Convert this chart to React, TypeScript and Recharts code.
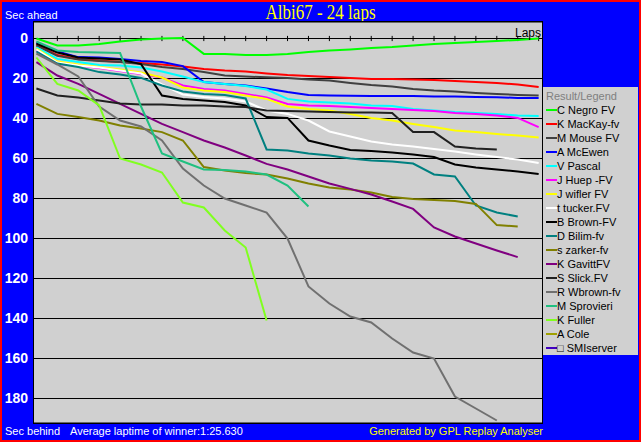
import { LineChart, Line, XAxis, YAxis, CartesianGrid, ReferenceLine } from "recharts";

// lap numbers and y ticks
const laps = [0, 1, 2, 3, 4, 5, 6, 7, 8, 9, 10, 11, 12, 13, 14, 15, 16, 17, 18, 19, 20, 21, 22, 23, 24];
const tickLaps = laps.slice(1);
const secTicks = [0, 20, 40, 60, 80, 100, 120, 140, 160, 180];

const drivers = [
  "C Negro FV",
  "K MacKay-fv",
  "M Mouse FV",
  "A McEwen",
  "V Pascal",
  "J Huep -FV",
  "J wifler FV",
  "t tucker.FV",
  "B Brown-FV",
  "D Bilim-fv",
  "s zarker-fv",
  "K GavittFV",
  "S Slick.FV",
  "R Wbrown-fv",
  "M Sprovieri",
  "K Fuller",
  "A Cole",
  "\u25A1 SMIserver",
];

const colors = [
  "#00FF00", "#FF0000", "#404040", "#0000FF", "#00FFFF", "#FF00FF",
  "#FFFF00", "#FFFFFF", "#000000", "#008080", "#808000", "#800080",
  "#202020", "#707070", "#20C080", "#80FF20", "#A0A000", "#4000C0",
];

// seconds behind, one value per lap (shorter arrays = retired)
const negro = [0, 3.5, 3.5, 2.7, 1.5, 0.5, 0, -0.3, 7.7, 7.7, 8.2, 8.2, 7.7, 6.8, 6, 5.5, 4.8, 4.3, 3.5, 2.8, 2.3, 1.8, 1.3, 0.7, 0];
const mackay = [3, 8.3, 10.2, 11, 11.8, 12.2, 13, 14, 15.2, 16, 16.5, 17.5, 18.3, 18.8, 19.3, 19.8, 20.2, 20.2, 20.5, 20.7, 21.3, 21.8, 22.3, 23, 24.3];
const mouse = [3.5, 8.7, 10.5, 11.2, 11.8, 12.7, 14.3, 15.3, 16.8, 18.5, 19, 19.4, 19.8, 20.5, 21, 22.2, 23.3, 24, 25.2, 26, 26.5, 27.2, 27.7, 28.2, 28.5];
const mcewen = [2, 6.5, 9.3, 9.5, 10.2, 11.3, 11.8, 13.8, 21.8, 22.7, 23.5, 25, 26.8, 28.2, 28.5, 28.6, 28.8, 28.7, 28.8, 29, 29, 29.3, 29.4, 29.7, 29.8];
const pascal = [4.5, 10.2, 11.8, 13.2, 13.5, 14.5, 16.5, 19, 21.8, 22.7, 23.8, 25.5, 30.2, 31.5, 32, 32.5, 33.5, 33.8, 35.2, 36, 36.8, 37.3, 37.7, 38.5, 38.8];
const huep = [6, 12.7, 13.5, 14.8, 16.2, 17.7, 19.5, 23.5, 25.2, 26, 27.7, 29.5, 32.7, 33.5, 33.8, 34.3, 34.8, 35.2, 35.7, 36.3, 37.3, 37.8, 38.5, 39.7, 44.3];
const wifler = [5, 11.5, 13, 14.2, 15.5, 17, 19.5, 24.5, 26, 26.8, 28.5, 30.2, 34, 35.2, 36, 37.7, 39.8, 41, 42.7, 44.3, 46, 46.8, 47.7, 48.5, 49.5];
const tucker = [5.5, 12, 13.5, 14.5, 16, 17.5, 23, 28, 29.3, 30, 31.5, 36, 37.7, 41, 46.5, 49, 51.5, 53, 54, 55.2, 56.5, 58, 59.3, 60.5, 62.3];
const brown = [2.5, 7, 9.5, 10, 10.5, 12.8, 28.5, 30.2, 31, 31.8, 33.5, 39.3, 39.7, 51, 53.5, 55.7, 56.3, 57, 58, 59.3, 63, 64.5, 65.5, 66.5, 67.7];
const bilim = [6.5, 12.5, 14.3, 16.8, 18, 19.7, 23.5, 26.5, 27.7, 28.2, 30, 55.5, 56, 57.5, 58.5, 60, 61, 61.5, 62.5, 68, 69, 83.5, 87, 89];
const zarker = [32.7, 37.7, 39.3, 41, 43.5, 45, 46.8, 51, 64.3, 66, 67.3, 68, 70, 72.5, 74.5, 75.5, 77, 79.3, 80.3, 80.7, 81.3, 82.7, 93.3, 94];
const gavitt = [11.8, 18.5, 22.7, 27.7, 32.7, 37.7, 42.7, 46.8, 51, 54.5, 58.5, 62.7, 65.5, 69, 72.5, 75.2, 78, 81.5, 85.2, 94.5, 99, 102.5, 106, 109.3];
const slick = [25, 28.5, 29.5, 31, 32.5, 33, 33, 33.5, 33.5, 34, 34.3, 36, 36.3, 36.5, 36.8, 37, 37, 37.2, 46.8, 46.8, 54, 55, 55.5];
const wbrown = [7.5, 13, 19, 34, 41, 44, 51, 65, 73.5, 80, 83.5, 87, 100, 124, 132.5, 139, 142, 150, 157, 160, 179, 185, 191];
const sprovieri = [1.5, 6, 6.8, 7, 7.3, 34, 57.5, 61.5, 65.5, 65.8, 66.5, 68, 73.5, 84];
const fuller = [9.5, 22.7, 26, 33.5, 60, 63, 67, 82, 84.5, 96, 104.5, 141];
const cole: number[] = [];
const smiserver: number[] = [];

const gaps = [negro, mackay, mouse, mcewen, pascal, huep, wifler, tucker, brown, bilim, zarker, gavitt, slick, wbrown, sprovieri, fuller, cole, smiserver];

const data = laps.map((lap) => {
  const row: Record<string, number | undefined> = { lap };
  gaps.forEach((g, i) => {
    row[`d${i}`] = g[lap];
  });
  return row;
});

const sans = "'Liberation Sans', Arial, sans-serif";

export default function App() {
  return (
    <div style={{ position: "absolute", left: 0, top: 0, width: 641, height: 442, background: "#0000FF", overflow: "hidden", fontFamily: sans }}>
      <div style={{ position: "absolute", left: 0, top: 2, width: 641, textAlign: "center", color: "#FFFF00", fontFamily: "'Liberation Serif', 'Times New Roman', serif", fontSize: 20, lineHeight: "20px", transform: "scaleX(0.85)" }}>
        Albi67 - 24 laps
      </div>
      <div style={{ position: "absolute", left: 5, top: 10, color: "#FFFFFF", fontSize: 11, lineHeight: "11px" }}>Sec ahead</div>

      <div style={{ position: "absolute", left: 33, top: 21, width: 510, height: 403, background: "#D0D0D0", border: "1px solid #000", boxSizing: "border-box" }} />

      <div style={{ position: "absolute", left: 0, top: 0 }}>
        <LineChart width={641} height={442} data={data} margin={{ top: 22, right: 99, bottom: 19, left: 4 }}>
          <CartesianGrid vertical={false} stroke="#000000" strokeWidth={1} />
          <XAxis dataKey="lap" type="number" domain={[-0.115, 24.16]} allowDataOverflow hide />
          <YAxis
            type="number"
            width={30}
            reversed
            domain={[-8.25, 192.25]}
            ticks={secTicks}
            interval={0}
            allowDataOverflow
            axisLine={false}
            tickLine={false}
            tickSize={0}
            tickMargin={6}
            tick={{ fill: "#FFFFFF", fontSize: 14, fontWeight: "bold", fontFamily: sans }}
          />
          {tickLaps.map((lap) => (
            <ReferenceLine
              key={`t${lap}`}
              segment={[{ x: lap, y: -1.3 }, { x: lap, y: 1.3 }]}
              stroke="#000000"
              strokeWidth={1}
              ifOverflow="visible"
            />
          ))}
          {drivers.map((name, i) => (
            <Line
              key={name}
              name={name}
              dataKey={`d${i}`}
              type="linear"
              stroke={colors[i]}
              strokeWidth={2}
              dot={false}
              activeDot={false}
              isAnimationActive={false}
              connectNulls={false}
            />
          ))}
        </LineChart>
      </div>

      <div style={{ position: "absolute", right: 100, top: 27, color: "#000", fontSize: 12, lineHeight: "12px" }}>Laps</div>

      <div style={{ position: "absolute", left: 543, top: 87, width: 95, height: 268, background: "#D0D0D0", paddingTop: 2, boxSizing: "border-box", fontSize: 11 }}>
        <div style={{ color: "#808080", lineHeight: "14px", paddingLeft: 3 }}>Result/Legend</div>
        {drivers.map((name, i) => (
          <div key={name} style={{ display: "flex", alignItems: "center", height: 14, lineHeight: "14px", whiteSpace: "nowrap" }}>
            <span style={{ display: "inline-block", width: 11, height: 2, background: colors[i], marginLeft: 3, marginRight: 0 }} />
            <span style={{ color: "#000" }}>{name}</span>
          </div>
        ))}
      </div>

      <div style={{ position: "absolute", left: 5, top: 426, color: "#FFFFFF", fontSize: 11, lineHeight: "11px" }}>Sec behind</div>
      <div style={{ position: "absolute", left: 70, top: 426, color: "#FFFFFF", fontSize: 11, lineHeight: "11px" }}>Average laptime of winner:1:25.630</div>
      <div style={{ position: "absolute", right: 98, top: 426, color: "#FFFF00", fontSize: 11, lineHeight: "11px" }}>Generated by GPL Replay Analyser</div>

      <div style={{ position: "absolute", left: 0, top: 0, width: 641, height: 442, border: "2px solid #FF0000", boxSizing: "border-box", pointerEvents: "none" }} />
    </div>
  );
}
